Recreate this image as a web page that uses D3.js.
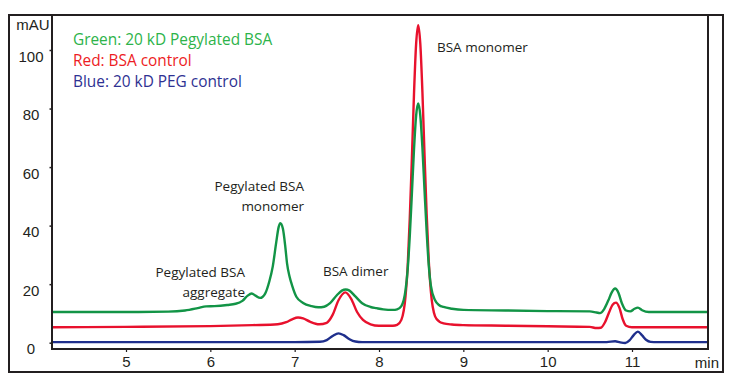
<html>
<head>
  <script src="https://d3js.org/d3.v7.min.js"></script>
  <meta charset="utf-8">
  <title>SEC chromatogram</title>
<style>
body {
  margin: 0;
  background: #fff;
}
svg {
  background: #fff;
}
.axis-label {
  font-family: "Liberation Sans", Arial, sans-serif;
  font-size: 15px;
  fill: #231f20;
}
.note {
  font-family: "Open Sans", sans-serif;
  font-size: 13.5px;
  fill: #231f20;
}
.legend {
  font-family: "Open Sans", sans-serif;
  font-size: 15.4px;
}
</style>
</head>
<body>
<script>
var width = 737,
    height = 382;

// retention time (min) / absorbance (mAU) pairs
var green = [
  [4.13, 10.5], [5.0, 10.5], [5.5, 10.6], [5.7, 11.0], [5.85, 11.8], [5.95, 12.4],
  [6.05, 12.5], [6.2, 12.9], [6.3, 13.3], [6.38, 14.3], [6.44, 16.0], [6.49, 16.8],
  [6.54, 16.0], [6.59, 15.3], [6.65, 16.8], [6.7, 21], [6.74, 26], [6.78, 34],
  [6.81, 39.5], [6.83, 40.8], [6.86, 39], [6.89, 32.5], [6.91, 27], [6.94, 22.5],
  [6.97, 19.5], [7.02, 15.7], [7.1, 13.6], [7.2, 12.5], [7.28, 12.1], [7.35, 12.3],
  [7.42, 13.5], [7.5, 16.2], [7.56, 17.8], [7.605, 18.2], [7.65, 17.8], [7.72, 15.8],
  [7.8, 13.5], [7.9, 12.2], [7.97, 11.8], [8.05, 11.4], [8.165, 11.2], [8.215, 11.4],
  [8.265, 12.5], [8.315, 18], [8.34, 25], [8.365, 36.5], [8.39, 51], [8.415, 66],
  [8.44, 77.5], [8.465, 81.7], [8.49, 77.5], [8.515, 66.5], [8.54, 52], [8.565, 38],
  [8.59, 26.5], [8.615, 19.5], [8.665, 14.5], [8.715, 12.8], [8.765, 12.2], [8.865, 11.6],
  [9.0, 11.2], [9.5, 11.0], [10.0, 10.8], [10.5, 10.7], [10.58, 10.3], [10.62, 10.1],
  [10.67, 11.5], [10.72, 14.5], [10.76, 17.2], [10.8, 18.5], [10.84, 17], [10.88, 13.5],
  [10.93, 11], [10.98, 10.7], [11.03, 11.6], [11.07, 12.0], [11.12, 11.1], [11.2, 10.5],
  [11.9, 10.5]
];

var red = [
  [4.13, 5.3], [5.0, 5.4], [6.0, 5.65], [6.5, 6.0], [6.8, 6.3], [6.9, 7.0],
  [6.97, 8.0], [7.04, 8.6], [7.1, 8.3], [7.18, 7.2], [7.29, 6.3], [7.38, 6.8],
  [7.45, 9.5], [7.52, 14.5], [7.6, 17.2], [7.67, 15.0], [7.74, 10.5], [7.81, 7.8],
  [7.9, 6.3], [8.0, 5.8], [8.165, 5.8], [8.215, 6.1], [8.265, 7.8], [8.315, 16],
  [8.34, 26], [8.365, 42.6], [8.39, 63], [8.415, 85], [8.44, 102], [8.465, 108.5],
  [8.49, 102], [8.515, 85.5], [8.54, 64], [8.565, 44], [8.59, 28], [8.615, 17.5],
  [8.665, 9], [8.715, 7.2], [8.765, 6.6], [8.865, 6.2], [9.0, 6.0], [9.5, 5.8],
  [10.0, 5.6], [10.5, 5.4], [10.58, 5.0], [10.63, 5.1], [10.68, 7], [10.73, 10.5],
  [10.77, 13], [10.81, 13.7], [10.85, 12], [10.89, 8], [10.93, 5.8], [11.0, 5.3],
  [11.9, 5.3]
];

var blue = [
  [4.13, 0.2], [7.0, 0.2], [7.3, 0.3], [7.38, 0.9], [7.45, 2.3], [7.52, 3.2],
  [7.58, 2.6], [7.65, 1.2], [7.72, 0.4], [7.8, 0.2], [10.7, 0.2], [10.8, 0.5],
  [10.86, 0.1], [10.92, -0.1], [10.97, 0.8], [11.02, 2.6], [11.07, 3.8], [11.12, 2.5],
  [11.17, 0.9], [11.22, 0.3], [11.3, 0.2], [11.9, 0.2]
];

var xTicks = [5, 6, 7, 8, 9, 10, 11];
var yTicks = [0, 20, 40, 60, 80, 100];
var legendItems = ['Green: 20 kD Pegylated BSA', 'Red: BSA control', 'Blue: 20 kD PEG control'];
var legendColors = ['#2db34a', '#ed1c24', '#2e3192'];

var frame = {left: 9, top: 15, right: 723, bottom: 372};
var plot = {left: 52, top: 15, right: 708, bottom: 349};

var svg = d3.select('body').append('svg')
  .attr('width', width)
  .attr('height', height);

// 5 min sits at x=126, 11 min at x=632
var x = d3.scaleLinear().domain([5, 11]).range([126, 632]);
// 0 mAU at y=342.7, 100 mAU at y=50
var y = d3.scaleLinear().domain([0, 100]).range([342.7, 50]);

svg.append('clipPath').attr('id', 'clip')
  .append('rect')
  .attr('x', plot.left)
  .attr('y', plot.top)
  .attr('width', plot.right - plot.left)
  .attr('height', plot.bottom - plot.top);

var line = d3.line()
  .x(function (d) { return x(d[0]); })
  .y(function (d) { return y(d[1]); })
  .curve(d3.curveMonotoneX);

var traces = [
  {data: blue, color: '#1f2f8c'},
  {data: red, color: '#e8112d'},
  {data: green, color: '#129446'}
];

svg.append('g')
  .attr('clip-path', 'url(#clip)')
  .selectAll('path')
  .data(traces)
  .enter()
  .append('path')
  .attr('d', function (d) { return line(d.data); })
  .attr('fill', 'none')
  .attr('stroke', function (d) { return d.color; })
  .attr('stroke-width', 2.4)
  .attr('stroke-linejoin', 'round');

// outer frame and plot box
svg.append('rect')
  .attr('x', frame.left)
  .attr('y', frame.top)
  .attr('width', frame.right - frame.left)
  .attr('height', frame.bottom - frame.top)
  .attr('fill', 'none')
  .attr('stroke', '#231f20')
  .attr('stroke-width', 2);

svg.append('path')
  .attr('d', 'M' + plot.left + ',' + plot.top + 'V' + plot.bottom + 'H' + plot.right + 'V' + plot.top)
  .attr('fill', 'none')
  .attr('stroke', '#231f20')
  .attr('stroke-width', 2);

// x axis
var xAxis = d3.axisBottom(x).tickValues(xTicks).tickFormat(d3.format('d')).tickSize(3).tickPadding(4);
var gx = svg.append('g')
  .attr('transform', 'translate(0,' + plot.bottom + ')')
  .call(xAxis);
gx.select('.domain').remove();
gx.selectAll('line').attr('stroke', '#231f20').attr('stroke-width', 1.2);
gx.selectAll('text')
  .attr('class', 'axis-label')
  .attr('font-family', null)
  .attr('font-size', null)
  .attr('fill', null);

// y axis: labels centred below their ticks, as in the picture
var yAxis = d3.axisLeft(y).tickValues(yTicks).tickSize(2.5).tickFormat('');
var gy = svg.append('g')
  .attr('transform', 'translate(' + plot.left + ',0)')
  .call(yAxis);
gy.select('.domain').remove();
gy.selectAll('line').attr('stroke', '#231f20').attr('stroke-width', 1.5);

svg.append('g').selectAll('text')
  .data(yTicks)
  .enter()
  .append('text')
  .attr('class', 'axis-label')
  .attr('x', 31)
  .attr('y', function (d) { return y(d) + 11.5; })
  .attr('text-anchor', 'middle')
  .text(function (d) { return d; });

svg.append('text')
  .attr('class', 'axis-label')
  .attr('x', 33)
  .attr('y', 30)
  .attr('text-anchor', 'middle')
  .text('mAU');

svg.append('text')
  .attr('class', 'axis-label')
  .attr('x', 719)
  .attr('y', 368)
  .attr('text-anchor', 'end')
  .text('min');

// legend
svg.append('g').selectAll('text')
  .data(legendItems)
  .enter()
  .append('text')
  .attr('class', 'legend')
  .attr('x', 73)
  .attr('y', function (d, i) { return 45 + i * 20.8; })
  .attr('fill', function (d, i) { return legendColors[i]; })
  .text(function (d) { return d; });

// peak annotations
var notes = [
  {lines: ['Pegylated BSA', 'monomer'], x: 304, y: 191, anchor: 'end'},
  {lines: ['Pegylated BSA', 'aggregate'], x: 245, y: 277, anchor: 'end'},
  {lines: ['BSA dimer'], x: 323, y: 276, anchor: 'start'},
  {lines: ['BSA monomer'], x: 437, y: 52, anchor: 'start'}
];

notes.forEach(function (n) {
  var t = svg.append('text')
    .attr('class', 'note')
    .attr('x', n.x)
    .attr('y', n.y)
    .attr('text-anchor', n.anchor);
  n.lines.forEach(function (l, i) {
    t.append('tspan')
      .attr('x', n.x)
      .attr('dy', i === 0 ? 0 : 19.5)
      .text(l);
  });
});

</script>
</body>
</html>
